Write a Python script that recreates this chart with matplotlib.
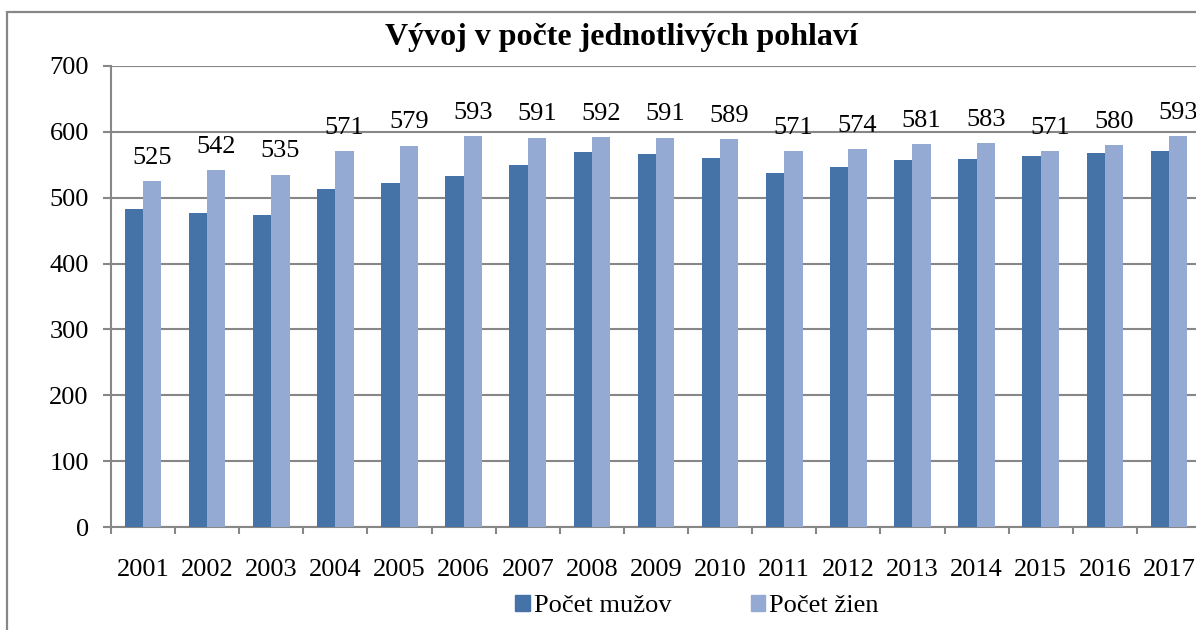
import numpy as np
import matplotlib
matplotlib.use("Agg")
import matplotlib.pyplot as plt
from matplotlib.patches import Patch, Rectangle

years = ["2001", "2002", "2003", "2004", "2005", "2006", "2007", "2008", "2009",
         "2010", "2011", "2012", "2013", "2014", "2015", "2016", "2017"]
muzi = [483, 477, 474, 513, 522, 533, 549, 570, 566, 560, 537, 547, 558, 559, 564, 568, 571]
zeny = [525, 542, 535, 571, 579, 593, 591, 592, 591, 589, 571, 574, 581, 583, 571, 580, 593]
legend_labels = ["Počet mužov", "Počet žien"]
title = "Vývoj v počte jednotlivých pohlaví"

dark = "#4572A7"
light = "#94AAD3"
grey = "#878787"

plt.rcParams['font.family'] = ['Liberation Serif', 'DejaVu Serif']

fig = plt.figure(figsize=(11.96, 6.30), dpi=100)
W, H = 1196, 630

# chart border (cut off on the right and bottom like the original)
fig.add_artist(Rectangle((7 / W, -0.1), 1.2, 1 - 12 / H + 0.1, transform=fig.transFigure,
                         fill=False, edgecolor=grey, linewidth=1.6))

ax = fig.add_axes([111 / W, (H - 527) / H, 1090 / W, 461 / H])

x = np.arange(len(years))
bw = 1 / 3.5
ax.bar(x - bw / 2, muzi, width=bw, color=dark, zorder=3)
ax.bar(x + bw / 2, zeny, width=bw, color=light, zorder=3)

for xi, v in zip(x, zeny):
    ax.annotate(str(v), (xi + bw / 2, v), xytext=(0, 12.5), textcoords="offset points",
                ha="center", va="baseline", fontsize=19)

ax.set_xlim(-0.5, len(years) - 0.5)
ax.set_ylim(0, 700)
ax.set_yticks(range(0, 701, 100))
ax.yaxis.grid(True, color=grey, linewidth=1.5, zorder=0)
ax.set_axisbelow(True)
for s in ["top", "right"]:
    ax.spines[s].set_visible(False)
for s in ["left", "bottom"]:
    ax.spines[s].set_color(grey)
    ax.spines[s].set_linewidth(1.5)

ax.set_xticks(x)
ax.set_xticklabels(years)
ax.set_xticks(np.arange(-0.5, len(years)), minor=True)
ax.tick_params(axis="x", which="major", length=0, pad=23, labelsize=19)
ax.tick_params(axis="x", which="minor", length=5, width=1.5, color=grey)
ax.tick_params(axis="y", length=6, width=1.5, color=grey, pad=10, labelsize=19)

fig.text(621 / W, 1 - 38 / H, title, ha="center", va="center",
         fontsize=23, fontweight="bold")

handles = [Patch(color=dark), Patch(color=light)]
fig.legend(handles, legend_labels, loc="center", bbox_to_anchor=(697 / W, 1 - 606 / H),
           ncol=2, frameon=False, fontsize=19, handlelength=0.55, handleheight=0.55,
           handletextpad=0.15, columnspacing=3.0, borderpad=0)

fig.savefig("out.png", dpi=100)
